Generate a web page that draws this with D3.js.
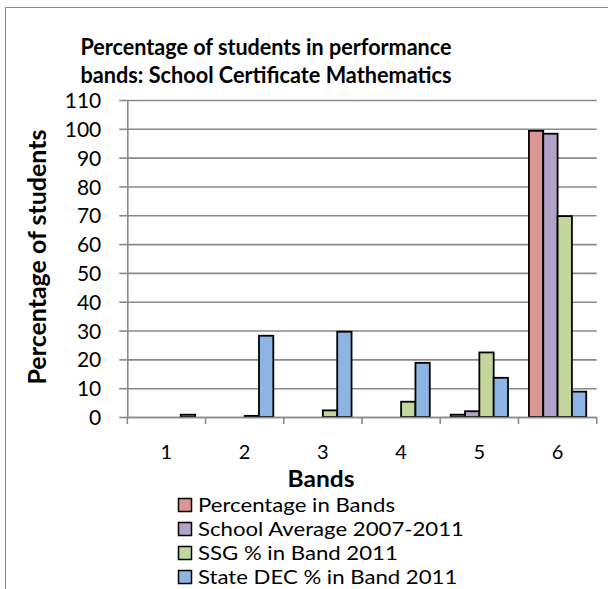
<!DOCTYPE html>
<html>
<head>
<meta charset="utf-8">
<script src="https://cdn.jsdelivr.net/npm/d3@7"></script>
<style>
  html, body { margin: 0; padding: 0; background: #fff; }
  svg { display: block; }
  text { font-family: Lato, "Open Sans", sans-serif; fill: #000; }
</style>
</head>
<body>
<svg id="chart" width="608" height="589"></svg>
<script>
// ---- data ----
const categories = ["1", "2", "3", "4", "5", "6"];
const seriesNames = ["Percentage in Bands", "School Average 2007-2011", "SSG % in Band 2011", "State DEC % in Band 2011"];
const percentageInBands = [null, null, null, null, 0.8, 99.3];
const schoolAverage = [null, null, null, null, 2.0, 98.3];
const ssgInBand = [null, 0.4, 2.3, 5.3, 22.4, 69.7];
const stateDecInBand = [0.8, 28.2, 29.6, 18.8, 13.6, 8.8];
const yTicks = [0, 10, 20, 30, 40, 50, 60, 70, 80, 90, 100, 110];
const titleLines = ["Percentage of students in performance", "bands: School Certificate Mathematics"];
const yTitle = "Percentage of students";
const xTitle = "Bands";

const seriesValues = [percentageInBands, schoolAverage, ssgInBand, stateDecInBand];
const colors = ["#D99694", "#B3A2C7", "#C3D69B", "#8EB4E3"];

const svg = d3.select("#chart");

function fit(sel, target) {
  const node = sel.node();
  const s0 = parseFloat(sel.attr("font-size"));
  const len = node.getComputedTextLength();
  sel.attr("font-size", (s0 * target / len).toFixed(2));
}

// chart border
svg.append("rect").attr("x", 5.5).attr("y", 7.5).attr("width", 640).attr("height", 640)
  .attr("fill", "#fff").attr("stroke", "#898989").attr("stroke-width", 1);

const plotL = 127.3, plotR = 596.7, plotT = 100, plotB = 417;
const y = d3.scaleLinear().domain([0, 110]).range([plotB, plotT]);
const x0 = d3.scaleBand().domain(categories).range([plotL, plotR]).padding(0);
const x1 = d3.scaleBand().domain(seriesNames).range([0, x0.bandwidth()]).paddingInner(0).paddingOuter(0.73);

const gridColor = "#8a8a8a";

// gridlines
const grid = svg.append("g").attr("transform", `translate(${plotL},0)`)
  .call(d3.axisLeft(y).tickValues(yTicks).tickSize(-(plotR - plotL)).tickFormat(""));
grid.select(".domain").remove();
grid.selectAll("line").attr("stroke", gridColor).attr("stroke-width", 1.6);

// y axis
const yAxis = svg.append("g").attr("transform", `translate(${plotL},0)`)
  .call(d3.axisLeft(y).tickValues(yTicks).tickSize(8).tickPadding(18).tickSizeOuter(0));
yAxis.select(".domain").attr("stroke", gridColor).attr("stroke-width", 1.6);
yAxis.selectAll("line").attr("stroke", gridColor).attr("stroke-width", 1.6);
yAxis.selectAll("text").attr("font-size", 21).attr("font-family", "Lato").attr("fill", "#000")
  .attr("dy", "0.36em");

// bars
const groups = svg.append("g").selectAll("g").data(categories).join("g")
  .attr("transform", c => `translate(${x0(c)},0)`);
groups.selectAll("rect")
  .data((c, i) => seriesNames.map((s, k) => ({ s, k, v: seriesValues[k][i] })).filter(d => d.v != null))
  .join("rect")
  .attr("x", d => x1(d.s))
  .attr("width", x1.bandwidth())
  .attr("y", d => y(d.v))
  .attr("height", d => y(0) - y(d.v))
  .attr("fill", d => colors[d.k])
  .attr("stroke", "#000")
  .attr("stroke-width", 1.8);

// x axis
const xAxis = svg.append("g").attr("transform", `translate(0,${plotB})`)
  .call(d3.axisBottom(x0).tickSize(0).tickPadding(28));
xAxis.select(".domain").attr("stroke", gridColor).attr("stroke-width", 1.6);
xAxis.selectAll("text").attr("font-size", 20).attr("font-family", "Lato").attr("fill", "#000");
const boundaries = categories.map(c => x0(c)).concat([x0.range()[1]]);
xAxis.selectAll("line.bound").data(boundaries).join("line").attr("class", "bound")
  .attr("x1", d => d).attr("x2", d => d).attr("y1", 0).attr("y2", 7)
  .attr("stroke", gridColor).attr("stroke-width", 1.6);

// title
titleLines.forEach((t, i) => {
  svg.append("text").attr("x", 266).attr("y", 55 + i * 28)
    .attr("text-anchor", "middle").attr("font-weight", "bold").attr("font-size", 22)
    .attr("textLength", 371).attr("lengthAdjust", "spacingAndGlyphs").text(t);
});

// y title
const yt = svg.append("text").attr("transform", "translate(46,257) rotate(-90)")
  .attr("text-anchor", "middle").attr("font-weight", "bold").attr("font-size", 22).text(yTitle);
fit(yt, 255);

// x title
svg.append("text").attr("x", 321).attr("y", 487)
  .attr("text-anchor", "middle").attr("font-weight", "bold").attr("font-size", 22)
  .attr("textLength", 67).attr("lengthAdjust", "spacingAndGlyphs").text(xTitle);

// legend
const legend = svg.append("g").selectAll("g").data(seriesNames).join("g")
  .attr("transform", (d, i) => `translate(178,${512 + i * 24})`);
legend.append("rect").attr("x", 0.5).attr("y", -13.5).attr("width", 13).attr("height", 13)
  .attr("fill", (d, i) => colors[i]).attr("stroke", "#000").attr("stroke-width", 1.5);
const legendTexts = legend.append("text").attr("x", 20).attr("y", 0).attr("font-size", 19).text(d => d);
const widths = legendTexts.nodes().map(n => n.getComputedTextLength());
const stretch = 197 / widths[0];
legendTexts.attr("textLength", (d, i) => (widths[i] * stretch).toFixed(1))
  .attr("lengthAdjust", "spacingAndGlyphs");
</script>
</body>
</html>
